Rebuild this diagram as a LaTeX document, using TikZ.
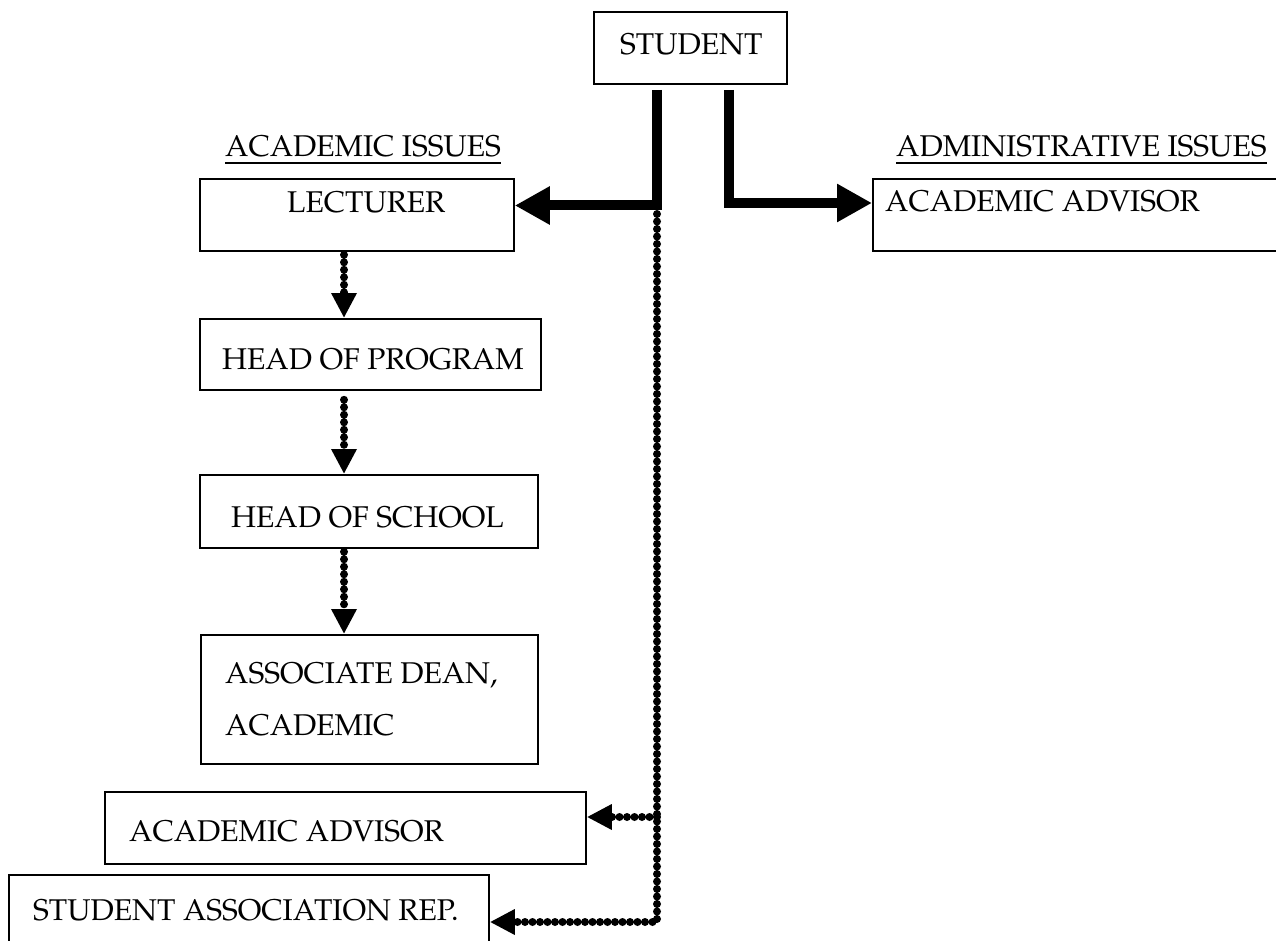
\documentclass[tikz,border=0pt]{standalone}
\usepackage[T1]{fontenc}
\usepackage{mathpazo}
\usetikzlibrary{arrows.meta}
\tikzset{
  box/.style={draw, line width=1.8pt, inner sep=0pt, anchor=north west},
  txt/.style={inner sep=0pt, anchor=base west, font=\fontsize{30}{36}\selectfont},
  bigarrow/.style={line width=10pt, -{Triangle[length=35pt,width=36pt]}},
  dotline/.style={line width=8pt, line cap=round, dash pattern=on 0pt off 7.5pt},
  dotarrow/.style={dotline, -{Triangle[length=25pt,width=24pt]}},
  uline/.style={line width=2.5pt}
}
\begin{document}
\begin{tikzpicture}[x=1pt,y=-1pt]
\useasboundingbox (0,0) rectangle (1276,941);
\clip (0,0) rectangle (1276,941);
% boxes
\node[box, minimum width=193pt, minimum height=72pt] (stu) at (593,11) {};
\node[box, minimum width=314pt, minimum height=72pt] (lect) at (199,178) {};
\node[box, minimum width=341pt, minimum height=71pt] (hop) at (199,318) {};
\node[box, minimum width=338pt, minimum height=73pt] (hos) at (199,474) {};
\node[box, minimum width=337pt, minimum height=129pt] (adean) at (200,634) {};
\node[box, minimum width=481pt, minimum height=72pt] (aa1) at (104,791) {};
\node[box, minimum width=480pt, minimum height=90pt] (sar) at (8,874) {};
\node[box, minimum width=420pt, minimum height=72pt] (aa2) at (872,178) {};
% texts
\node[txt] (tstu) at (620,55) {STUDENT};
\node[txt] (tlect) at (287,213) {LECTURER};
\node[txt] (thop) at (222,369) {HEAD OF PROGRAM};
\node[txt] (thos) at (231,527) {HEAD OF SCHOOL};
\node[txt] (tad1) at (225,683) {ASSOCIATE DEAN,};
\node[txt] (tad2) at (225,735) {ACADEMIC};
\node[txt] (taa1) at (129,841) {ACADEMIC ADVISOR};
\node[txt] (tsar) at (33,920) {STUDENT ASSOCIATION REP.};
\node[txt] (taa2) at (885,212) {ACADEMIC ADVISOR};
\node[txt] (acad) at (225,157) {ACADEMIC ISSUES};
\node[txt] (admin) at (896,157) {ADMINISTRATIVE ISSUES};
\draw[uline] ([yshift=-6pt]acad.base west) -- ([yshift=-6pt]acad.base east);
\draw[uline] ([yshift=-6pt]admin.base west) -- ([yshift=-6pt]admin.base east);
% thick connectors
\coordinate (j1) at (657,205.5);
\coordinate (j2) at (728.5,203);
\draw[bigarrow] ([yshift=-5pt]stu.south -| j1) -- (j1) -- (j1 -| lect.east);
\draw[bigarrow] ([yshift=-5pt]stu.south -| j2) -- (j2) -- (j2 -| aa2.west);
% dotted chain
\coordinate (ax) at (344,0);
\draw[dotarrow] ([yshift=-3pt]lect.south -| ax) -- (hop.north -| ax);
\draw[dotarrow] ([yshift=-9pt]hop.south -| ax) -- (hos.north -| ax);
\draw[dotarrow] ([yshift=-3pt]hos.south -| ax) -- (adean.north -| ax);
% long dotted line
\coordinate (d0) at (657,214);
\coordinate (d1) at (657,817);
\coordinate (d2) at (657,922);
\draw[dotarrow] (d0) -- (d2) -- (d2 -| sar.east);
\draw[dotarrow] (d1) -- (d1 -| aa1.east);
\end{tikzpicture}
\end{document}
